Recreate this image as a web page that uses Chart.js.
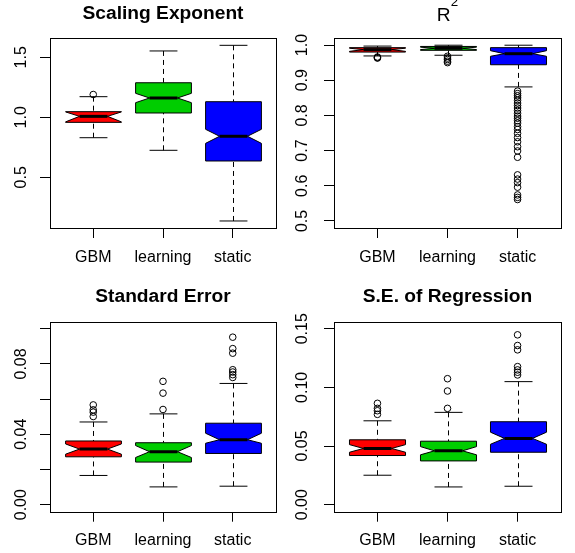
<!DOCTYPE html>
<html>
<head>
<meta charset="utf-8">
<script src="https://cdn.jsdelivr.net/npm/chart.js@4"></script>
<style>
  body { margin: 0; background: #fff; }
  #wrap { position: relative; width: 575px; height: 553px; }
  canvas { position: absolute; }
</style>
</head>
<body>
<div id="wrap">
  <canvas id="exp" width="287" height="276" style="left:0;top:0"></canvas>
  <canvas id="rsq" width="288" height="276" style="left:287px;top:0"></canvas>
  <canvas id="se" width="287" height="277" style="left:0;top:276px"></canvas>
  <canvas id="ser" width="288" height="277" style="left:287px;top:276px"></canvas>
</div>
<script>
const groups = ['GBM', 'learning', 'static'];

// each stats row: lower whisker, lower hinge, median, upper hinge, upper whisker
const expStats = [
  [0.83, 0.958, 1.008, 1.047, 1.172],
  [0.725, 1.036, 1.161, 1.288, 1.553],
  [0.136, 0.636, 0.842, 1.13, 1.6]
];
const expNotch = [[0.962, 1.045], [1.122, 1.2], [0.783, 0.9]];
const expOutliers = [[1.19], [], []];
const expTicks = [0.5, 1.0, 1.5];
const expTickLabels = ['0.5', '1.0', '1.5'];

const rsqStats = [
  [0.969, 0.980, 0.987, 0.9926, 0.997],
  [0.971, 0.985, 0.9906, 0.996, 0.9995],
  [0.881, 0.944, 0.9754, 0.9926, 0.9995]
];
const rsqNotch = [[0.982, 0.991], [0.987, 0.994], [0.968, 0.984]];
const rsqOutliers = [
  [0.966, 0.964, 0.963],
  [0.968, 0.963, 0.959, 0.954, 0.950],
  [0.869, 0.862, 0.856, 0.850, 0.843, 0.835, 0.828, 0.821, 0.814, 0.806,
   0.798, 0.792, 0.785, 0.778, 0.768, 0.760, 0.749, 0.737, 0.725, 0.711,
   0.699, 0.681, 0.631, 0.619, 0.609, 0.596, 0.574, 0.567, 0.561]
];
const rsqTicks = [0.5, 0.6, 0.7, 0.8, 0.9, 1.0];
const rsqTickLabels = ['0.5', '0.6', '0.7', '0.8', '0.9', '1.0'];

const seStats = [
  [0.0166, 0.0272, 0.0316, 0.0362, 0.047],
  [0.0101, 0.0242, 0.0301, 0.0352, 0.0516],
  [0.0105, 0.0291, 0.0369, 0.0463, 0.0689]
];
const seNotch = [[0.0287, 0.0345], [0.0268, 0.0336], [0.0349, 0.0406]];
const seOutliers = [
  [0.0567, 0.0539, 0.0526, 0.0501],
  [0.0701, 0.0634, 0.0541],
  [0.0952, 0.0887, 0.0861, 0.0767, 0.0754, 0.0739, 0.0723]
];
const seTicks = [0, 0.02, 0.04, 0.06, 0.08, 0.10];
const seTickLabels = ['0.00', '', '0.04', '', '0.08', ''];

const serStats = [
  [0.0251, 0.0419, 0.0479, 0.0553, 0.0715],
  [0.0151, 0.0373, 0.0459, 0.0541, 0.0787],
  [0.0157, 0.0447, 0.0565, 0.0707, 0.1049]
];
const serNotch = [[0.0447, 0.0512], [0.0425, 0.0495], [0.0515, 0.0618]];
const serOutliers = [
  [0.0864, 0.0821, 0.0801, 0.077],
  [0.1074, 0.0969, 0.0821],
  [0.1448, 0.1357, 0.132, 0.1177, 0.1149, 0.1129, 0.1106]
];
const serTicks = [0, 0.05, 0.10, 0.15];
const serTickLabels = ['0.00', '0.05', '0.10', '0.15'];

const fills = ['#ff0000', '#00cd00', '#0000ff'];
const FONT = '"Liberation Sans", Arial, Helvetica, sans-serif';
const TICK_LEN = 10;
const BOX_WEX = 0.8;

Chart.defaults.font.family = FONT;
Chart.defaults.font.size = 16;
Chart.defaults.color = '#000';

function seg(ctx, x1, y1, x2, y2) {
  ctx.beginPath();
  ctx.moveTo(x1, y1);
  ctx.lineTo(x2, y2);
  ctx.stroke();
}

function drawBoxes(chart, cfg) {
  const { ctx, chartArea: a, scales: { x, y } } = chart;
  ctx.save();
  ctx.beginPath();
  ctx.rect(a.left, a.top, a.right - a.left, a.bottom - a.top);
  ctx.clip();
  ctx.strokeStyle = '#000';
  ctx.lineWidth = 1;
  cfg.stats.forEach((s, i) => {
    const [lo, q1, med, q3, hi] = s;
    const [n1, n2] = cfg.notch[i];
    const cx = Math.round(x.getPixelForValue(i + 1)) + 0.5;
    const half = x.getPixelForValue(i + 1 + BOX_WEX / 2) - x.getPixelForValue(i + 1);
    const py = v => y.getPixelForValue(v);

    // whiskers and staples
    ctx.setLineDash([5, 4]);
    seg(ctx, cx, py(lo), cx, py(q1));
    seg(ctx, cx, py(hi), cx, py(q3));
    ctx.setLineDash([]);
    seg(ctx, cx - half / 2, py(lo), cx + half / 2, py(lo));
    seg(ctx, cx - half / 2, py(hi), cx + half / 2, py(hi));

    // notched box
    const xs = [-1, 1, 1, 0.5, 1, 1, -1, -1, -0.5, -1];
    const ys = [q1, q1, n1, med, n2, q3, q3, n2, med, n1];
    ctx.beginPath();
    xs.forEach((k, j) => {
      const px = cx + k * half, pyv = py(ys[j]);
      if (j === 0) ctx.moveTo(px, pyv); else ctx.lineTo(px, pyv);
    });
    ctx.closePath();
    ctx.fillStyle = fills[i];
    ctx.fill();
    ctx.stroke();

    // median
    ctx.lineWidth = 3;
    seg(ctx, cx - half / 2, py(med), cx + half / 2, py(med));
    ctx.lineWidth = 1;
  });
  ctx.restore();
}

function drawFrame(chart, cfg) {
  const { ctx, chartArea: a } = chart;
  ctx.save();
  ctx.strokeStyle = '#000';
  ctx.lineWidth = 1;
  const l = Math.round(a.left) + 0.5, t = Math.round(a.top) + 0.5;
  const r = Math.round(a.right) + 0.5, b = Math.round(a.bottom) + 0.5;
  ctx.strokeRect(l, t, r - l, b - t);

  const cx = (a.left + a.right) / 2;
  ctx.fillStyle = '#000';
  if (cfg.sup) {
    ctx.textAlign = 'left';
    ctx.textBaseline = 'alphabetic';
    ctx.font = '19.2px ' + FONT;
    const w1 = ctx.measureText(cfg.title).width;
    ctx.font = '13.4px ' + FONT;
    const w2 = ctx.measureText(cfg.sup).width;
    const x0 = cx - (w1 + w2) / 2;
    ctx.font = '19.2px ' + FONT;
    ctx.fillText(cfg.title, x0, a.top - 17.3);
    ctx.font = '13.4px ' + FONT;
    ctx.fillText(cfg.sup, x0 + w1, a.top - 31.7);
  } else {
    ctx.textAlign = 'center';
    ctx.textBaseline = 'alphabetic';
    ctx.font = 'bold 19.2px ' + FONT;
    ctx.fillText(cfg.title, cx, a.top - 19.5);
  }
  ctx.restore();
}

function makePanel(id, cfg) {
  const canvas = document.getElementById(id);
  const W = canvas.width, H = canvas.height;
  const area = cfg.area;
  const m = canvas.getContext('2d');
  m.font = '16px ' + FONT;
  const widest = Math.max(...cfg.tickLabels.map(t => m.measureText(t).width));

  const pts = [];
  cfg.outliers.forEach((list, i) => list.forEach(v => pts.push({ x: i + 1, y: v })));

  const grid = { drawOnChartArea: false, drawTicks: true, tickLength: TICK_LEN, color: '#000', lineWidth: 1 };

  return new Chart(canvas, {
    type: 'scatter',
    data: {
      datasets: [{
        data: pts,
        pointStyle: 'circle',
        pointRadius: 3.3,
        pointBorderWidth: 1,
        pointBorderColor: '#000',
        pointBackgroundColor: 'rgba(0,0,0,0)'
      }]
    },
    options: {
      responsive: false,
      animation: false,
      events: [],
      layout: { padding: { top: area.t, right: W - area.r, bottom: 0, left: 0 } },
      plugins: { legend: { display: false }, tooltip: { enabled: false } },
      scales: {
        x: {
          type: 'linear',
          min: 0.38,
          max: 3.62,
          border: { display: false },
          grid: grid,
          afterBuildTicks: s => { s.ticks = groups.map((g, i) => ({ value: i + 1 })); },
          afterFit: s => { s.height = H - area.b; },
          ticks: {
            autoSkip: false,
            maxRotation: 0,
            padding: 9.5,
            callback: (v, i) => groups[i]
          }
        },
        y: {
          type: 'linear',
          min: cfg.min,
          max: cfg.max,
          border: { display: false },
          grid: grid,
          afterBuildTicks: s => { s.ticks = cfg.ticks.map(v => ({ value: v })); },
          afterFit: s => { s.width = area.l; },
          ticks: {
            autoSkip: false,
            minRotation: 90,
            maxRotation: 90,
            crossAlign: 'center',
            padding: cfg.labelOffset - TICK_LEN - widest / 2,
            callback: (v, i) => cfg.tickLabels[i]
          }
        }
      }
    },
    plugins: [{
      id: 'rboxes',
      beforeDatasetsDraw: chart => drawBoxes(chart, cfg),
      afterDraw: chart => drawFrame(chart, cfg)
    }]
  });
}

makePanel('exp', {
  title: 'Scaling Exponent',
  stats: expStats, notch: expNotch, outliers: expOutliers,
  ticks: expTicks, tickLabels: expTickLabels,
  min: 0.0775, max: 1.661,
  area: { l: 50, r: 276, t: 38, b: 228 }, labelOffset: 28
});

makePanel('rsq', {
  title: 'R', sup: '2',
  stats: rsqStats, notch: rsqNotch, outliers: rsqOutliers,
  ticks: rsqTicks, tickLabels: rsqTickLabels,
  min: 0.48, max: 1.02,
  area: { l: 47, r: 274, t: 38, b: 228 }, labelOffset: 31.5
});

makePanel('se', {
  title: 'Standard Error',
  stats: seStats, notch: seNotch, outliers: seOutliers,
  ticks: seTicks, tickLabels: seTickLabels,
  min: -0.004, max: 0.104,
  area: { l: 50, r: 276, t: 45.7, b: 235.7 }, labelOffset: 28.5
});

makePanel('ser', {
  title: 'S.E. of Regression',
  stats: serStats, notch: serNotch, outliers: serOutliers,
  ticks: serTicks, tickLabels: serTickLabels,
  min: -0.006, max: 0.156,
  area: { l: 47, r: 274, t: 45.7, b: 235.7 }, labelOffset: 31.5
});
</script>
</body>
</html>
